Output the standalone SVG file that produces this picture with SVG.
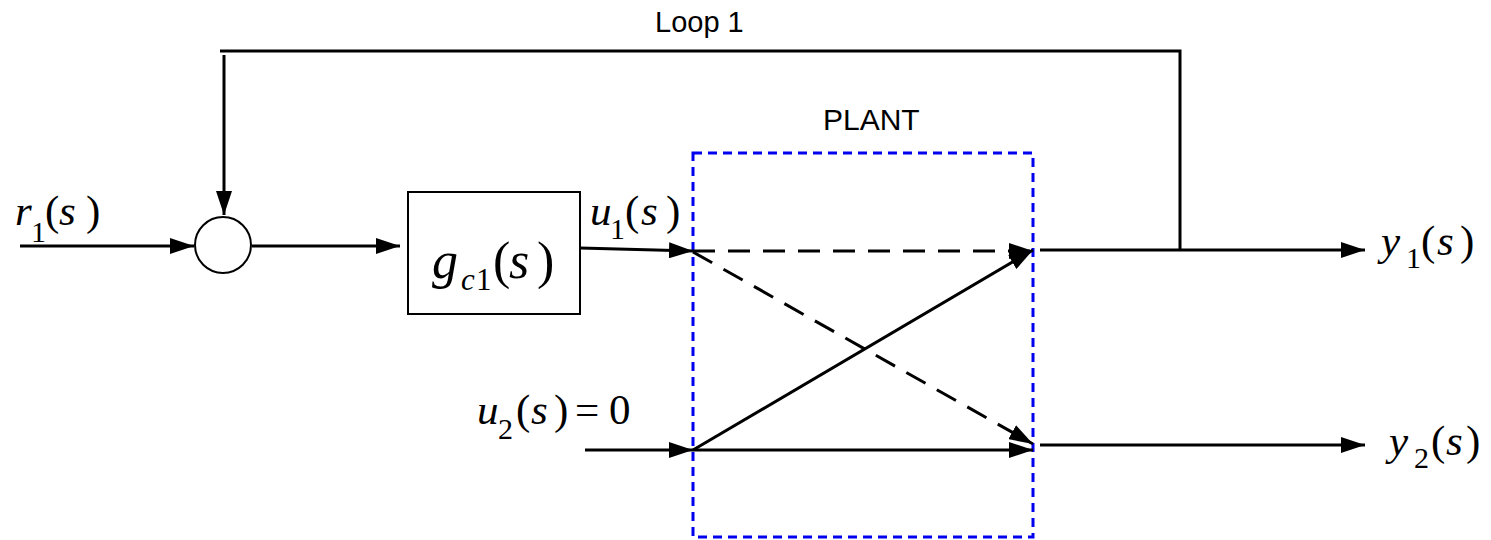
<svg xmlns="http://www.w3.org/2000/svg" width="1491" height="540" viewBox="0 0 1491 540">
<style>
.ln{stroke:#000;stroke-width:3;fill:none}
.dash{stroke:#000;stroke-width:3;fill:none;stroke-dasharray:22 13}
.plant{stroke:#0000ee;stroke-width:3;fill:none;stroke-dasharray:9 6}
.m{font-family:'Liberation Serif','Times New Roman',serif;font-size:43px;fill:#000}
.i{font-style:italic}
.sub{font-size:30px}
.lab{font-family:'Liberation Sans',Arial,sans-serif;fill:#000}
</style>
<defs>
<marker id="ah" viewBox="0 0 24 16" refX="24" refY="8" markerWidth="24" markerHeight="16" markerUnits="userSpaceOnUse" orient="auto">
<path d="M0,0 L24,8 L0,16 Z" fill="#000"/>
</marker>
</defs>
<g id="plant">
<rect class="plant" x="693" y="153" width="340" height="384"/>
<text class="lab" x="823" y="130" font-size="30">PLANT</text>
</g>
<g id="sum">
<circle cx="223" cy="245" r="28" fill="#fff" stroke="#000" stroke-width="2"/>
</g>
<g id="controller">
<rect x="408" y="192" width="172" height="122" fill="#fff" stroke="#000" stroke-width="2"/>
<text class="m" style="font-size:52px"><tspan class="i" x="432" y="278">g</tspan><tspan class="i" x="461" y="290" style="font-size:31px">c</tspan><tspan x="476" y="290" style="font-size:31px">1</tspan><tspan x="493" y="278">(</tspan><tspan class="i" x="509" y="278">s</tspan><tspan x="537" y="278">)</tspan></text>
</g>
<g id="connectors">
<path class="ln" d="M220,51 H1180 V250"/>
<path class="ln" d="M224,55 V215" marker-end="url(#ah)"/>
<path class="ln" d="M20,246 H194" marker-end="url(#ah)"/>
<path class="ln" d="M252,246 H400" marker-end="url(#ah)"/>
<path class="ln" d="M580,248 L693,251" marker-end="url(#ah)"/>
<path class="dash" d="M693,251 H1033" marker-end="url(#ah)"/>
<path class="dash" d="M693,252 L1033,444" marker-end="url(#ah)"/>
<path class="ln" d="M693,450 L1033,250" marker-end="url(#ah)"/>
<path class="ln" d="M693,450 H1033" marker-end="url(#ah)"/>
<path class="ln" d="M585,450 H693" marker-end="url(#ah)"/>
<path class="ln" d="M1040,250 H1365" marker-end="url(#ah)"/>
<path class="ln" d="M1040,445 H1365" marker-end="url(#ah)"/>
</g>
<g id="labels">
<text class="lab" x="655" y="32" font-size="29">Loop 1</text>
<text class="m"><tspan class="i" x="15" y="225">r</tspan><tspan class="sub" x="31" y="242">1</tspan><tspan x="45" y="225">(</tspan><tspan class="i" x="59" y="225">s</tspan><tspan x="86" y="225">)</tspan></text>
<text class="m"><tspan class="i" x="590" y="225">u</tspan><tspan class="sub" x="610" y="239">1</tspan><tspan x="625" y="225">(</tspan><tspan class="i" x="641" y="225">s</tspan><tspan x="666" y="225">)</tspan></text>
<text class="m"><tspan class="i" x="477" y="424">u</tspan><tspan class="sub" x="498" y="439">2</tspan><tspan x="516" y="424">(</tspan><tspan class="i" x="531" y="424">s</tspan><tspan x="554" y="424">)</tspan><tspan x="575" y="424">=</tspan><tspan x="609" y="424">0</tspan></text>
<text class="m"><tspan class="i" x="1381" y="255">y</tspan><tspan class="sub" x="1406" y="268">1</tspan><tspan x="1421" y="255">(</tspan><tspan class="i" x="1437" y="255">s</tspan><tspan x="1460" y="255">)</tspan></text>
<text class="m"><tspan class="i" x="1389" y="455">y</tspan><tspan class="sub" x="1414" y="468">2</tspan><tspan x="1431" y="455">(</tspan><tspan class="i" x="1446" y="455">s</tspan><tspan x="1466" y="455">)</tspan></text>
</g>
</svg>
